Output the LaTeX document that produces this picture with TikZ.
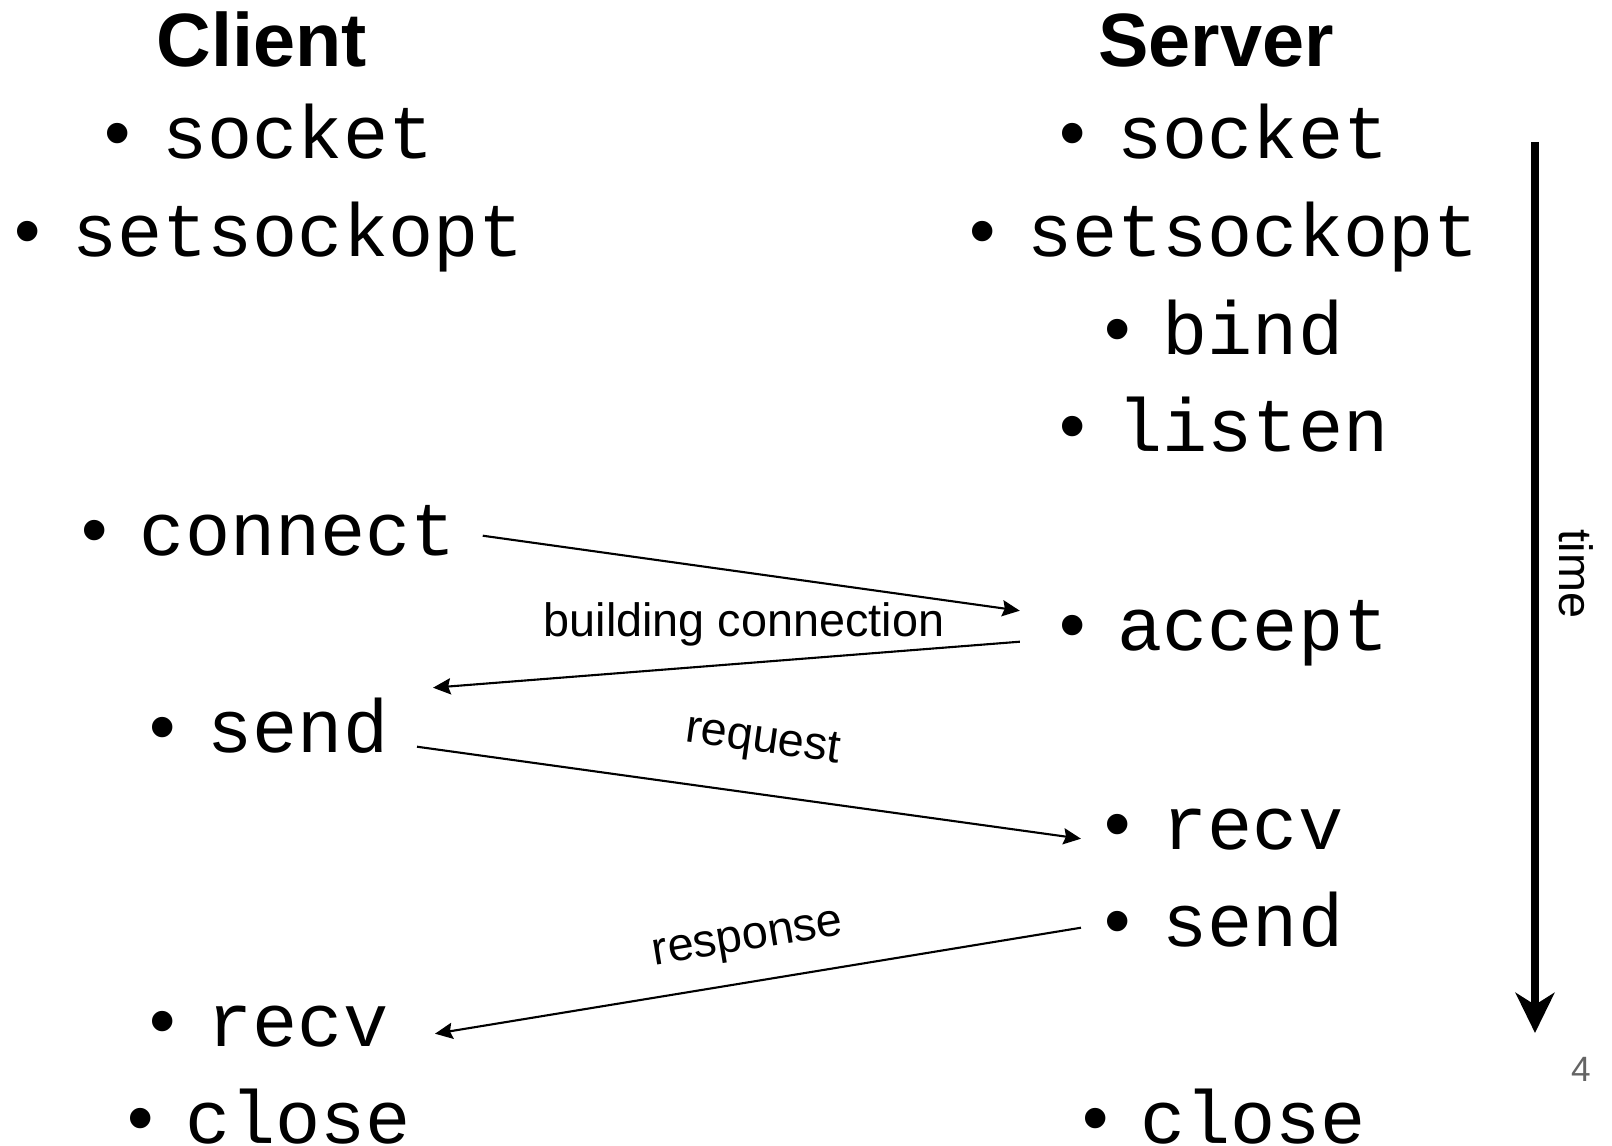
\documentclass[tikz,border=0pt]{standalone}
\usepackage{fontspec}
\setmainfont{Liberation Sans}
\setmonofont{Liberation Mono}
\usetikzlibrary{arrows.meta}

\definecolor{pagegray}{RGB}{100,100,100}
\newcommand{\itm}[1]{\textbullet\hspace{9pt}\texttt{#1}}

\begin{document}
\begin{tikzpicture}[x=0.01cm,y=-0.01cm,
  item/.style={anchor=base,inner sep=0pt,font=\fontsize{21.4}{24}\selectfont},
  head/.style={anchor=base,inner sep=0pt,font=\fontsize{21.5}{24}\selectfont\bfseries},
  lbl/.style={inner sep=0pt,font=\fontsize{13.3}{15}\selectfont},
  msg/.style={line width=0.6pt,-{Stealth[length=5pt,width=4.6pt,inset=0.7pt]}}]
  \useasboundingbox (0,0) rectangle (1612,1146);

  % titluri
  \node[head] (client) at (262,67) {Client};
  \node[head] (server) at (1216,67) {Server};

  % coloana client
  \foreach \t/\y in {socket/159,setsockopt/257,connect/555,send/752,recv/1046,close/1143}
    \node[item] (c-\t) at (269,\y) {\itm{\t}};

  % coloana server
  \foreach \t/\y in {socket/159,setsockopt/257,bind/355,listen/452,accept/650,recv/849,send/946,close/1143}
    \node[item] (s-\t) at (1224,\y) {\itm{\t}};

  % mesaje
  \draw[msg] ([shift={(26,-10)}]c-connect.mid east) -- ([shift={(-39,-30)}]s-accept.mid west);
  \draw[msg] ([shift={(-39,1)}]s-accept.mid west) -- ([shift={(44,-55)}]c-send.mid east);
  \draw[msg] ([shift={(28,4)}]c-send.mid east) -- ([shift={(-23,-1)}]s-recv.mid west)
    node[lbl,pos=0.51,sloped,above=0.31cm] (req) {request};
  \draw[msg] ([shift={(-23,-9)}]s-send.mid west) -- ([shift={(46,-3)}]c-recv.mid east)
    node[lbl,pos=0.505,sloped,above=0.21cm] (resp) {response};
  \node[lbl] (build) at (744,624) {building connection};

  % axa timpului
  \coordinate (t-top) at (1535,142);
  \coordinate (t-bot) at (1535,1033);
  \draw[line width=2.3pt,-{Stealth[length=11.4pt,width=11pt,inset=3.4pt]}] (t-top) -- (t-bot);
  \node[lbl,rotate=-90] (time) at (1576,574) {time};

  % numar pagina
  \node[inner sep=0pt,font=\fontsize{10}{12}\selectfont,text=pagegray] (page) at (1581,1069) {4};
\end{tikzpicture}
\end{document}
